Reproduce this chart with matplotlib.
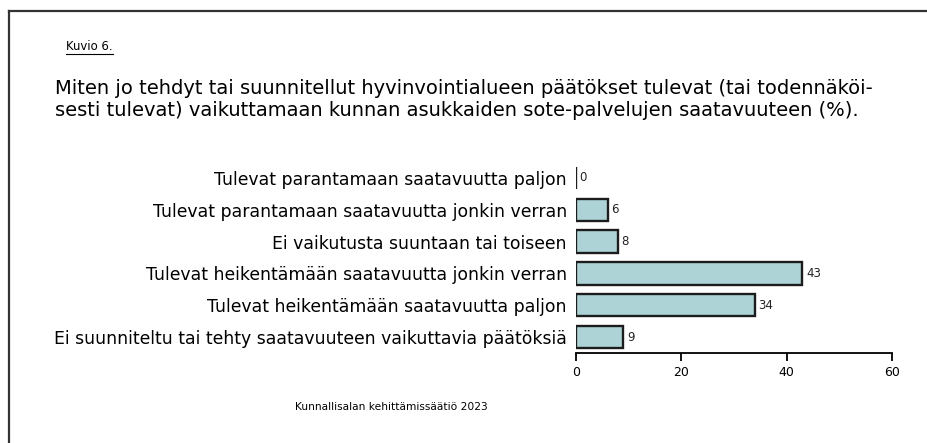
import matplotlib
matplotlib.use("Agg")
import matplotlib.pyplot as plt
from matplotlib.lines import Line2D

categories = [
    "Tulevat parantamaan saatavuutta paljon",
    "Tulevat parantamaan saatavuutta jonkin verran",
    "Ei vaikutusta suuntaan tai toiseen",
    "Tulevat heikentämään saatavuutta jonkin verran",
    "Tulevat heikentämään saatavuutta paljon",
    "Ei suunniteltu tai tehty saatavuuteen vaikuttavia päätöksiä",
]
values = [0, 6, 8, 43, 34, 9]
xticks = [0, 20, 40, 60]

title_lines = [
    "Miten jo tehdyt tai suunnitellut hyvinvointialueen päätökset tulevat (tai todennäköi-",
    "sesti tulevat) vaikuttamaan kunnan asukkaiden sote-palvelujen saatavuuteen (%).",
]

plt.rcParams["font.family"] = ["DejaVu Sans"]

W, H = 927, 443
fig = plt.figure(figsize=(W / 100, H / 100), dpi=100)
fig.patch.set_facecolor("white")

ax = fig.add_axes([576 / W, 1 - 353 / H, (892 - 576) / W, (353 - 162) / H])
y = list(range(len(categories)))
ax.barh(y, values, height=0.7, color="#AED3D7", edgecolor="#1c1c1c", linewidth=1.7)
for yi, v in zip(y, values):
    ax.annotate(f"{v}", (v, yi), xytext=(2.5, 0), textcoords="offset points",
                va="center", ha="left", fontsize=8.5, color="#222222")

ax.set_xlim(0, 60)
ax.set_ylim(len(categories) - 0.5, -0.5)
ax.set_xticks(xticks)
ax.set_xticklabels([str(t) for t in xticks], fontsize=9)
ax.set_yticks(y)
ax.set_yticklabels(categories, fontsize=12.4)
ax.tick_params(axis="y", length=0, pad=6.5)
ax.tick_params(axis="x", direction="out", length=6, width=1.3, pad=3)
for s in ("top", "right", "left"):
    ax.spines[s].set_visible(False)
ax.spines["bottom"].set_linewidth(1.3)

# header texts
kuvio = fig.text(66 / W, 1 - 47 / H, "Kuvio 6.", fontsize=8.4, va="center", ha="left")
for i, line in enumerate(title_lines):
    fig.text(55 / W, 1 - (89 + 21 * i) / H, line, fontsize=14.0, va="center", ha="left")
fig.text(391 / W, 1 - 407 / H, "Kunnallisalan kehittämissäätiö 2023",
         fontsize=7.7, va="center", ha="center")

# underline for "Kuvio 6."
fig.canvas.draw()
bb = kuvio.get_window_extent().transformed(fig.transFigure.inverted())
fig.add_artist(Line2D([bb.x0, bb.x1], [bb.y0, bb.y0],
                      transform=fig.transFigure, color="black", linewidth=0.8))

# frame lines (left and top)
fig.add_artist(Line2D([9 / W, 9 / W], [0, 1 - 11 / H], transform=fig.transFigure,
                      color="#333333", linewidth=1.6))
fig.add_artist(Line2D([9 / W, 1], [1 - 11 / H, 1 - 11 / H], transform=fig.transFigure,
                      color="#333333", linewidth=1.6))

fig.savefig("out.png", dpi=100)
